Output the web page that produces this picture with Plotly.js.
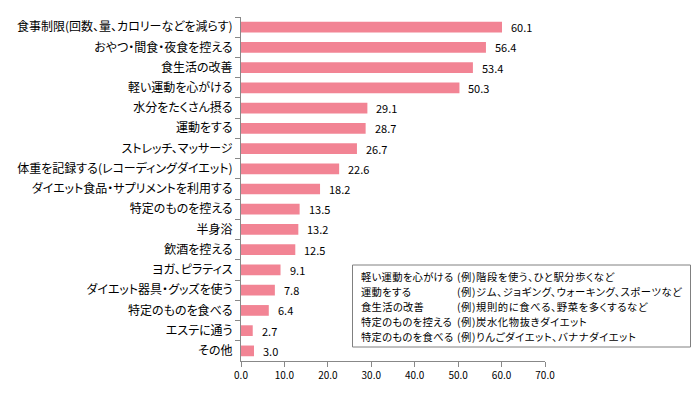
<!DOCTYPE html>
<html><head><meta charset="utf-8">
<script src="https://cdn.plot.ly/plotly-3.0.1.min.js"></script>
<style>
body{margin:0;padding:0;background:#fff;}
#chart text{font-feature-settings:"palt";}
#chart .annotation[data-index="22"] text,
#chart .annotation[data-index="23"] text,
#chart .annotation[data-index="24"] text,
#chart .annotation[data-index="25"] text,
#chart .annotation[data-index="26"] text{letter-spacing:0.6px;}
#chart .annotation[data-index="17"] text,
#chart .annotation[data-index="18"] text,
#chart .annotation[data-index="19"] text,
#chart .annotation[data-index="20"] text,
#chart .annotation[data-index="21"] text{letter-spacing:0.3px;}
</style>
</head><body>
<div id="chart" style="width:700px;height:394px;"></div>
<script>
const categories = [
  "食事制限(回数、量、カロリーなどを減らす)",
  "おやつ・間食・夜食を控える",
  "食生活の改善",
  "軽い運動を心がける",
  "水分をたくさん摂る",
  "運動をする",
  "ストレッチ、マッサージ",
  "体重を記録する(レコーディングダイエット)",
  "ダイエット食品・サプリメントを利用する",
  "特定のものを控える",
  "半身浴",
  "飲酒を控える",
  "ヨガ、ピラティス",
  "ダイエット器具・グッズを使う",
  "特定のものを食べる",
  "エステに通う",
  "その他"
];
const values = [60.1, 56.4, 53.4, 50.3, 29.1, 28.7, 26.7, 22.6, 18.2, 13.5, 13.2, 12.5, 9.1, 7.8, 6.4, 2.7, 3.0];
const xTicks = [0, 10, 20, 30, 40, 50, 60, 70];
const noteLabels = ["軽い運動を心がける", "運動をする", "食生活の改善", "特定のものを控える", "特定のものを食べる"];
const noteExamples = [
  "(例)階段を使う、ひと駅分歩くなど",
  "(例)ジム、ジョギング、ウォーキング、スポーツなど",
  "(例)規則的に食べる、野菜を多くするなど",
  "(例)炭水化物抜きダイエット",
  "(例)りんごダイエット、バナナダイエット"
];

const L = 241, R = 545, T = 17, B = 361;
const W = 700, H = 394;
const px = x => (x - L) / (R - L);
const py = y => (B - y) / (B - T);
const font = '"Noto Sans CJK JP", "Noto Sans", sans-serif';

const annotations = values.map((v, i) => ({
  x: v, y: categories[i], xref: 'x', yref: 'y',
  text: v.toFixed(1), showarrow: false, xanchor: 'left', yanchor: 'middle', align: 'left',
  xshift: 7, font: {size: 11, color: '#000', family: font}
}));
const noteMid = 306.5, lineH = 15;
noteLabels.forEach((t, i) => {
  annotations.push({x: px(360), y: py(noteMid + (i - 2) * lineH), xref: 'paper', yref: 'paper', text: t,
    showarrow: false, xanchor: 'left', yanchor: 'middle', align: 'left', borderpad: 0,
    font: {size: 10.3, color: '#000', family: font}});
});
noteExamples.forEach((t, i) => {
  annotations.push({x: px(456), y: py(noteMid + (i - 2) * lineH), xref: 'paper', yref: 'paper', text: t,
    showarrow: false, xanchor: 'left', yanchor: 'middle', align: 'left', borderpad: 0,
    font: {size: 10.3, color: '#000', family: font}});
});

const trace = {
  type: 'bar', orientation: 'h', x: values, y: categories,
  marker: {color: '#F28494'}, hoverinfo: 'none'
};

const layout = {
  width: W, height: H,
  margin: {l: L, r: W - R, t: T, b: H - B, pad: 0},
  paper_bgcolor: '#fff', plot_bgcolor: '#fff',
  showlegend: false,
  bargap: 0.47,
  font: {family: font, color: '#000'},
  xaxis: {
    range: [0, 70], tickvals: xTicks, ticktext: xTicks.map(v => v.toFixed(1)),
    showgrid: false, zeroline: false, showline: true, linecolor: '#888', linewidth: 1,
    ticks: 'outside', ticklen: 5, tickcolor: '#888', tickfont: {size: 10, color: '#000', family: font},
    fixedrange: true
  },
  yaxis: {
    type: 'category', autorange: 'reversed',
    showgrid: false, zeroline: false, showline: true, linecolor: '#888', linewidth: 1,
    ticks: 'outside', ticklen: 5, tickcolor: '#888', tickson: 'boundaries',
    tickfont: {size: 12, color: '#000', family: font}, ticklabelstandoff: 5,
    fixedrange: true
  },
  shapes: [{type: 'rect', xref: 'paper', yref: 'paper',
    x0: px(352.5), x1: px(690.5), y0: py(347), y1: py(265),
    line: {color: '#808080', width: 1}, fillcolor: 'rgba(0,0,0,0)'}],
  annotations: annotations
};

Plotly.newPlot('chart', [trace], layout, {staticPlot: true, displayModeBar: false});
</script>
</body></html>
